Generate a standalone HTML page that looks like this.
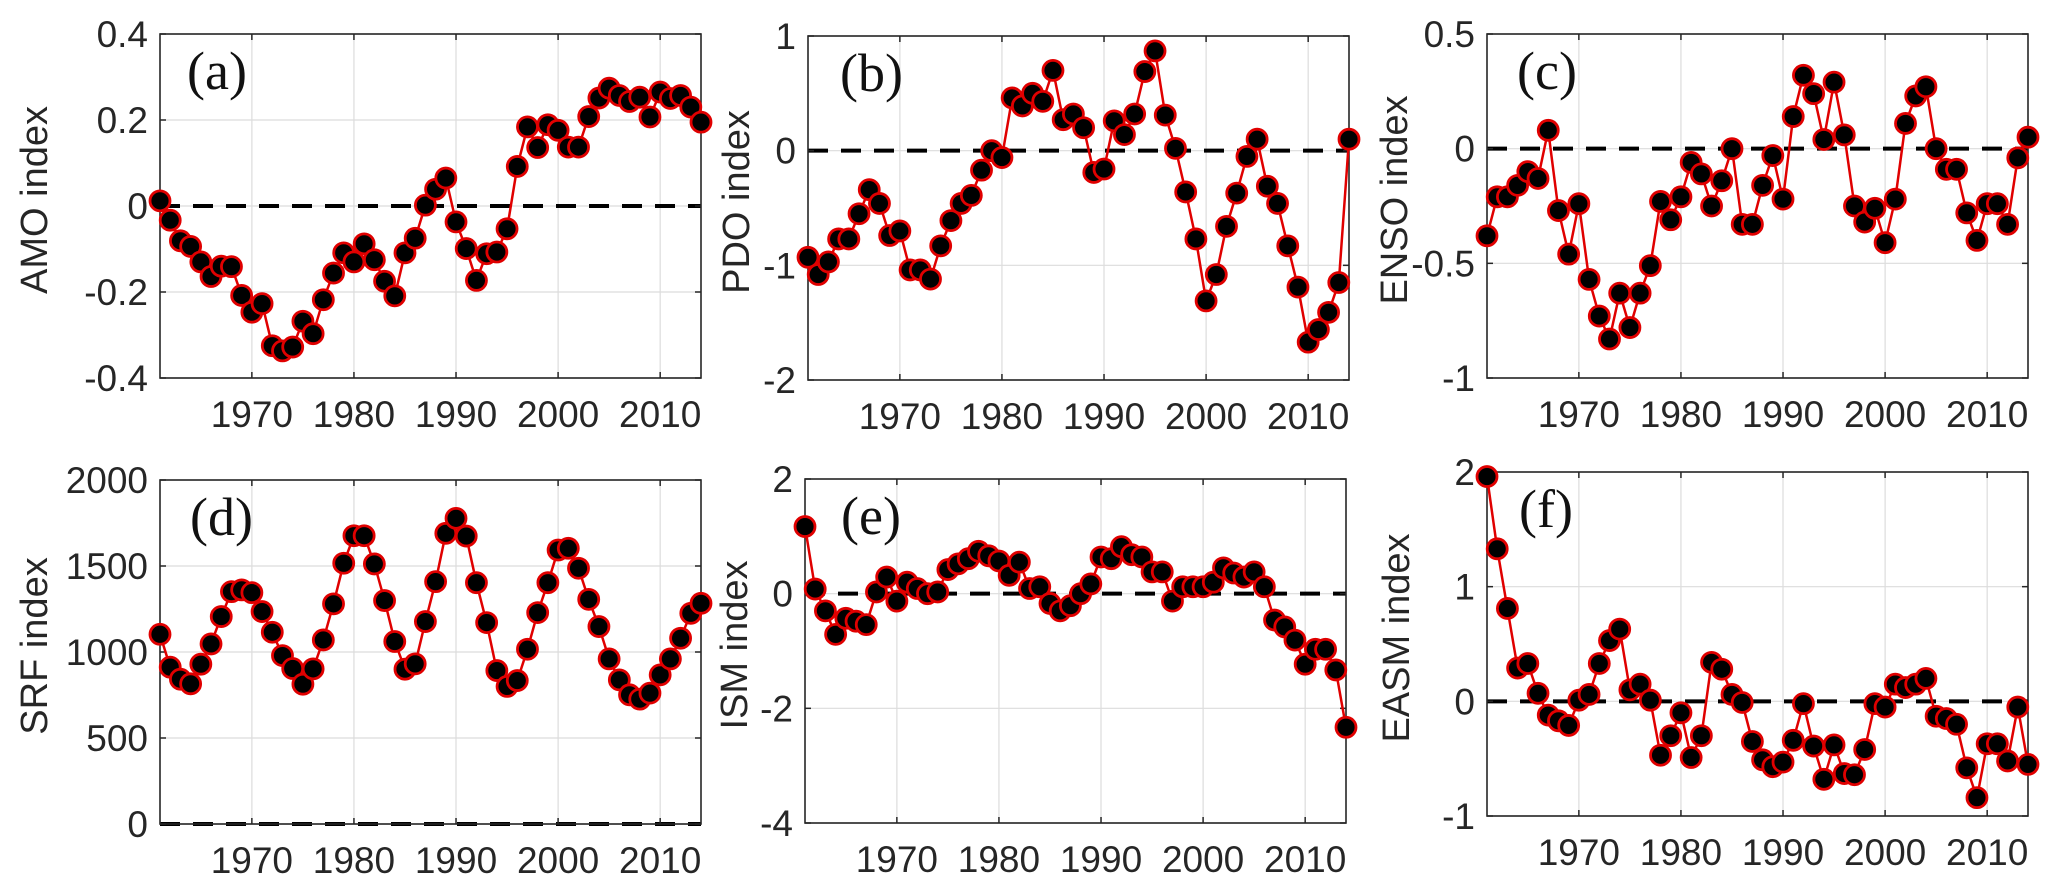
<!DOCTYPE html>
<html>
<head>
<meta charset="utf-8">
<style>
  html, body { margin: 0; padding: 0; background: #ffffff; }
  svg { display: block; }
  .tick { font-family: "Liberation Sans", Arial, sans-serif; font-size: 37px; fill: #262626; }
  .ytitle { font-family: "Liberation Sans", Arial, sans-serif; font-size: 38px; fill: #262626; }
  .plabel { font-family: "Liberation Serif", "Times New Roman", serif; font-size: 54px; fill: #111; }
</style>
</head>
<body>
<svg id="fig" width="2067" height="894" viewBox="0 0 2067 894" xmlns="http://www.w3.org/2000/svg"></svg>
<script>
const years = [];
for (let y = 1961; y <= 2014; y++) years.push(y);
const xTickYears = [1970, 1980, 1990, 2000, 2010];

const amoValues = [0.012,-0.033,-0.081,-0.094,-0.13,-0.164,-0.14,-0.141,-0.208,-0.247,
  -0.227,-0.325,-0.337,-0.328,-0.268,-0.297,-0.218,-0.156,-0.109,-0.13,
  -0.088,-0.125,-0.175,-0.209,-0.109,-0.075,0.002,0.039,0.065,-0.037,
  -0.099,-0.173,-0.111,-0.107,-0.053,0.092,0.184,0.136,0.189,0.176,
  0.137,0.137,0.208,0.251,0.274,0.257,0.243,0.253,0.207,0.265,
  0.25,0.257,0.23,0.195];
const pdoValues = [-0.93,-1.08,-0.97,-0.77,-0.77,-0.55,-0.34,-0.46,-0.74,-0.70,
  -1.04,-1.04,-1.12,-0.83,-0.61,-0.46,-0.39,-0.17,0.0,-0.06,
  0.46,0.39,0.50,0.43,0.70,0.27,0.32,0.20,-0.19,-0.16,
  0.26,0.14,0.32,0.69,0.87,0.31,0.02,-0.36,-0.77,-1.31,
  -1.08,-0.66,-0.37,-0.05,0.10,-0.31,-0.46,-0.83,-1.19,-1.67,
  -1.56,-1.41,-1.15,0.10];
const ensoValues = [-0.38,-0.21,-0.21,-0.16,-0.10,-0.13,0.08,-0.27,-0.46,-0.24,
  -0.57,-0.73,-0.83,-0.63,-0.78,-0.63,-0.51,-0.23,-0.31,-0.21,
  -0.06,-0.11,-0.25,-0.14,0.0,-0.33,-0.33,-0.16,-0.03,-0.22,
  0.14,0.32,0.24,0.04,0.29,0.06,-0.25,-0.32,-0.26,-0.41,
  -0.22,0.11,0.23,0.27,0.0,-0.09,-0.09,-0.28,-0.40,-0.24,
  -0.24,-0.33,-0.04,0.05];
const srfValues = [1103,912,842,815,929,1047,1206,1351,1361,1345,
  1235,1115,979,904,813,902,1070,1280,1516,1676,
  1676,1512,1299,1061,900,931,1177,1409,1690,1777,
  1674,1403,1171,892,800,834,1016,1229,1403,1593,
  1603,1487,1306,1148,960,838,751,726,761,867,
  960,1080,1225,1283];
const ismValues = [1.17,0.08,-0.30,-0.71,-0.43,-0.48,-0.54,0.03,0.29,-0.13,
  0.20,0.09,0.0,0.03,0.42,0.52,0.61,0.74,0.66,0.57,
  0.32,0.55,0.09,0.12,-0.17,-0.30,-0.21,0.0,0.17,0.64,
  0.61,0.82,0.68,0.64,0.38,0.38,-0.13,0.12,0.12,0.12,
  0.20,0.45,0.36,0.29,0.38,0.12,-0.46,-0.58,-0.81,-1.23,
  -0.97,-0.97,-1.33,-2.33];
const easmValues = [1.96,1.33,0.81,0.29,0.33,0.07,-0.12,-0.17,-0.21,0.01,
  0.06,0.33,0.53,0.63,0.10,0.15,0.01,-0.47,-0.30,-0.10,
  -0.49,-0.30,0.34,0.28,0.06,-0.01,-0.35,-0.51,-0.57,-0.53,
  -0.34,-0.02,-0.39,-0.68,-0.38,-0.63,-0.64,-0.42,-0.02,-0.05,
  0.15,0.12,0.15,0.20,-0.13,-0.15,-0.20,-0.58,-0.84,-0.37,
  -0.37,-0.52,-0.05,-0.55];

const amoTicks = [-0.4, -0.2, 0, 0.2, 0.4];
const amoTickLabels = ["-0.4", "-0.2", "0", "0.2", "0.4"];
const pdoTicks = [-2, -1, 0, 1];
const pdoTickLabels = ["-2", "-1", "0", "1"];
const ensoTicks = [-1, -0.5, 0, 0.5];
const ensoTickLabels = ["-1", "-0.5", "0", "0.5"];
const srfTicks = [0, 500, 1000, 1500, 2000];
const srfTickLabels = ["0", "500", "1000", "1500", "2000"];
const ismTicks = [-4, -2, 0, 2];
const ismTickLabels = ["-4", "-2", "0", "2"];
const easmTicks = [-1, 0, 1, 2];
const easmTickLabels = ["-1", "0", "1", "2"];

const NS = "http://www.w3.org/2000/svg";
const svg = document.getElementById("fig");

function mk(tag, attrs, parent) {
  const e = document.createElementNS(NS, tag);
  for (const k in attrs) e.setAttribute(k, attrs[k]);
  parent.appendChild(e);
  return e;
}

function drawPanel(cfg) {
  const g = mk("g", {}, svg);
  
  
  const L = cfg.left, T = cfg.top, B = cfg.bottom, W = 541, R = L + W;
  const x0 = 1961, x1 = 2014;
  const ymin = cfg.ticks[0], ymax = cfg.ticks[cfg.ticks.length - 1];
  const xs = v => L + (v - x0) / (x1 - x0) * W;
  const ys = v => B - (v - ymin) / (ymax - ymin) * (B - T);

  xTickYears.forEach(yr => {
    const gl = mk("line", {x1: xs(yr), x2: xs(yr), y1: T, y2: B, stroke: "#dcdcdc", "stroke-width": 1.2}, g);
    
    
  });
  cfg.ticks.forEach(t => {
    const gl = mk("line", {x1: L, x2: R, y1: ys(t), y2: ys(t), stroke: "#dcdcdc", "stroke-width": 1.2}, g);
    
    
  });

  const zl = mk("line", {x1: L, x2: R, y1: ys(0), y2: ys(0), stroke: "#000", "stroke-width": 4, "stroke-dasharray": "20 13"}, g);
  
  

  const box = mk("rect", {x: L, y: T, width: W, height: B - T, fill: "none", stroke: "#262626", "stroke-width": 1.6}, g);
  
  

  xTickYears.forEach(yr => {
    const X = xs(yr);
    mk("line", {x1: X, x2: X, y1: B, y2: B - 6, stroke: "#262626", "stroke-width": 1.5}, g);
    mk("line", {x1: X, x2: X, y1: T, y2: T + 6, stroke: "#262626", "stroke-width": 1.5}, g);
    const tx = mk("text", {x: X, y: B + 49, "text-anchor": "middle", class: "tick"}, g);
    tx.textContent = String(yr);
    
    
  });
  cfg.ticks.forEach((t, i) => {
    const Y = ys(t);
    mk("line", {x1: L, x2: L + 6, y1: Y, y2: Y, stroke: "#262626", "stroke-width": 1.5}, g);
    mk("line", {x1: R, x2: R - 6, y1: Y, y2: Y, stroke: "#262626", "stroke-width": 1.5}, g);
    const tx = mk("text", {x: L - 12, y: Y + 13, "text-anchor": "end", class: "tick"}, g);
    tx.textContent = cfg.tickLabels[i];
    
    
  });

  const cy = (T + B) / 2 - 6, cx = L + cfg.titleOffset;
  const yt = mk("text", {x: cx, y: cy, "text-anchor": "middle", "dominant-baseline": "central", class: "ytitle", transform: "rotate(-90 " + cx + " " + cy + ")"}, g);
  yt.textContent = cfg.title;
  
  

  const pl = mk("text", {x: L + cfg.labelDx, y: T + 55, class: "plabel"}, g);
  pl.textContent = cfg.label;
  
  

  const pts = cfg.values.map((v, i) => xs(years[i]).toFixed(1) + "," + ys(v).toFixed(1)).join(" ");
  const pline = mk("polyline", {points: pts, fill: "none", stroke: "#e00000", "stroke-width": 2.5, "stroke-linejoin": "round"}, g);
  
  

  cfg.values.forEach((v, i) => {
    const c = mk("circle", {cx: xs(years[i]), cy: ys(v), r: 10, fill: "#000", stroke: "#e00000", "stroke-width": 2.8}, g);
    
    
  });
}

drawPanel({key: "amo", left: 160, top: 34, bottom: 378, ticks: amoTicks, tickLabels: amoTickLabels, values: amoValues, title: "AMO index", label: "(a)", titleOffset: -125, labelDx: 27});
drawPanel({key: "pdo", left: 808, top: 36, bottom: 380, ticks: pdoTicks, tickLabels: pdoTickLabels, values: pdoValues, title: "PDO index", label: "(b)", titleOffset: -71, labelDx: 32});
drawPanel({key: "enso", left: 1487, top: 34, bottom: 378, ticks: ensoTicks, tickLabels: ensoTickLabels, values: ensoValues, title: "ENSO index", label: "(c)", titleOffset: -92, labelDx: 30});
drawPanel({key: "srf", left: 160, top: 480, bottom: 824, ticks: srfTicks, tickLabels: srfTickLabels, values: srfValues, title: "SRF index", label: "(d)", titleOffset: -125, labelDx: 30});
drawPanel({key: "ism", left: 805, top: 479, bottom: 823, ticks: ismTicks, tickLabels: ismTickLabels, values: ismValues, title: "ISM index", label: "(e)", titleOffset: -70, labelDx: 36});
drawPanel({key: "easm", left: 1487, top: 472, bottom: 816, ticks: easmTicks, tickLabels: easmTickLabels, values: easmValues, title: "EASM index", label: "(f)", titleOffset: -90, labelDx: 32});
</script>
</body>
</html>
